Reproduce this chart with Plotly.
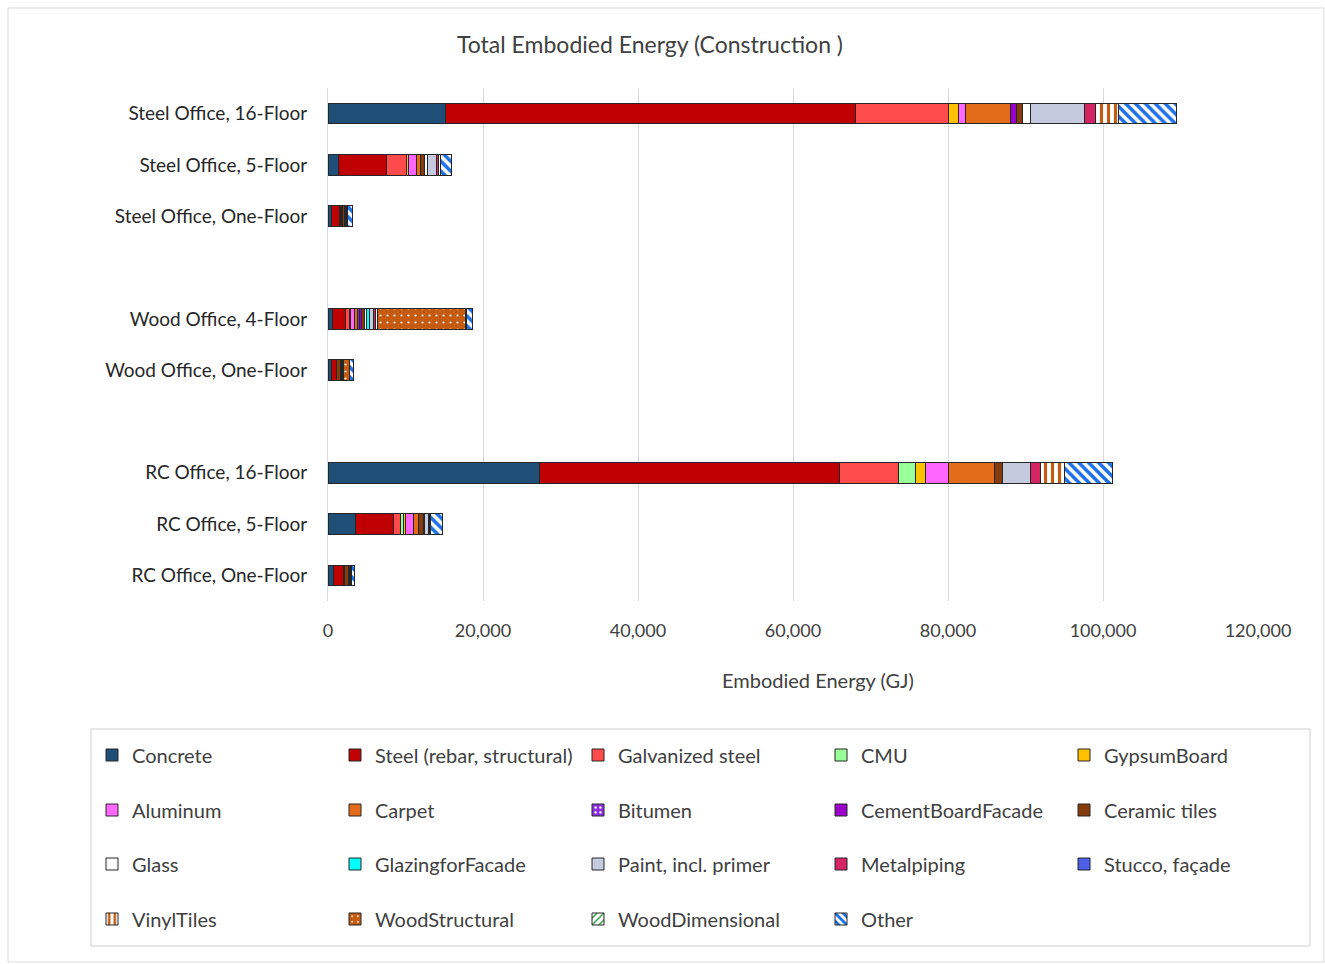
import plotly.graph_objects as go

# Buildings (top to bottom); blank entries separate the three building families
buildings = [
    "Steel Office, 16-Floor", "Steel Office, 5-Floor", "Steel Office, One-Floor",
    "Wood Office, 4-Floor", "Wood Office, One-Floor",
    "RC Office, 16-Floor", "RC Office, 5-Floor", "RC Office, One-Floor",
]
category_order = [
    "Steel Office, 16-Floor", "Steel Office, 5-Floor", "Steel Office, One-Floor", " ",
    "Wood Office, 4-Floor", "Wood Office, One-Floor", "  ",
    "RC Office, 16-Floor", "RC Office, 5-Floor", "RC Office, One-Floor",
]

# Embodied energy per material (GJ), same order as `buildings`
concrete = [15200, 1330, 390, 600, 390, 27350, 3570, 690]
steel = [52900, 6240, 1030, 1720, 740, 38700, 4860, 1290]
galvanized_steel = [11900, 2580, 100, 390, 0, 7530, 860, 0]
cmu = [0, 0, 0, 0, 0, 2240, 450, 0]
gypsum_board = [1300, 250, 80, 150, 0, 1290, 250, 0]
aluminum = [950, 1050, 80, 550, 0, 3010, 1080, 0]
carpet = [5800, 520, 150, 430, 0, 5940, 650, 100]
bitumen = [0, 0, 0, 250, 0, 0, 0, 0]
cement_board_facade = [780, 0, 0, 270, 0, 0, 0, 0]
ceramic_tiles = [730, 430, 300, 350, 500, 950, 550, 500]
glass = [1070, 430, 100, 200, 0, 0, 200, 100]
glazing_for_facade = [0, 0, 0, 470, 0, 0, 0, 0]
paint = [7000, 1120, 100, 540, 150, 3570, 450, 150]
metal_piping = [1380, 260, 80, 150, 80, 1380, 150, 80]
stucco_facade = [0, 0, 0, 0, 0, 0, 0, 0]
vinyl_tiles = [2930, 260, 80, 300, 80, 3050, 150, 80]
wood_structural = [0, 0, 0, 11350, 860, 0, 0, 0]
wood_dimensional = [0, 0, 0, 200, 0, 0, 0, 0]
other = [7520, 1510, 650, 770, 430, 6190, 1590, 430]

materials = [
    ("Concrete", concrete, "#1f4e79", None),
    ("Steel (rebar, structural)", steel, "#c00000", None),
    ("Galvanized steel", galvanized_steel, "#ff4b4b", None),
    ("CMU", cmu, "#99ff99", None),
    ("GypsumBoard", gypsum_board, "#ffc000", None),
    ("Aluminum", aluminum, "#ff66ff", None),
    ("Carpet", carpet, "#e36c1b", None),
    ("Bitumen", bitumen, "#8a2be2", dict(shape=".", fgcolor="#ffffff", size=6, solidity=0.2)),
    ("CementBoardFacade", cement_board_facade, "#9900cc", None),
    ("Ceramic tiles", ceramic_tiles, "#843c0c", None),
    ("Glass", glass, "#ffffff", None),
    ("GlazingforFacade", glazing_for_facade, "#00ffff", None),
    ("Paint, incl. primer", paint, "#c5cadf", None),
    ("Metalpiping", metal_piping, "#d42461", None),
    ("Stucco, façade", stucco_facade, "#4d5ee8", None),
    ("VinylTiles", vinyl_tiles, "#ffffff", dict(shape="|", fgcolor="#c55a11", size=7, solidity=0.45)),
    ("WoodStructural", wood_structural, "#c55a11", dict(shape=".", fgcolor="#ffffff", size=7, solidity=0.08)),
    ("WoodDimensional", wood_dimensional, "#ffffff", dict(shape="/", fgcolor="#2e9e3e", size=6, solidity=0.3)),
    ("Other", other, "#ffffff", dict(shape="\\", fgcolor="#1a6ee8", size=7, solidity=0.5)),
]

FONT = "Lato"
TEXT = "#404040"

# plot area in pixels
W, H = 1325, 964
L, R, T, B = 328, 1258, 88, 601
pw, ph = R - L, B - T


def px_x(px):
    return (px - L) / pw


def px_y(py):
    return (B - py) / ph


fig = go.Figure()
legend_names = ["legend", "legend2", "legend3", "legend4"]
for i, (name, vals, color, pattern) in enumerate(materials):
    marker = dict(color=color, line=dict(color="#262626", width=1))
    if pattern:
        marker["pattern"] = dict(fillmode="replace", bgcolor=color, **pattern)
    fig.add_trace(go.Bar(
        name=name,
        y=buildings,
        x=[v if v else None for v in vals],
        orientation="h",
        marker=marker,
        legend=legend_names[i // 5],
    ))

fig.update_layout(
    width=W, height=H,
    margin=dict(l=L, r=W - R, t=T, b=H - B),
    barmode="stack",
    bargap=0.6,
    paper_bgcolor="white",
    plot_bgcolor="white",
    font=dict(family=FONT, color=TEXT, size=19),
    title=dict(text="Total Embodied Energy (Construction )", x=650 / W,
               xanchor="center", xref="container", y=1 - 45 / H, yref="container",
               yanchor="middle", font=dict(size=23, color=TEXT, family=FONT)),
    xaxis=dict(range=[0, 120000], dtick=20000, tickformat=",", showgrid=True,
               gridcolor="#d9d9d9", gridwidth=1, zeroline=False, showline=False,
               ticks="", tickfont=dict(size=18, color=TEXT), ticklabelstandoff=17),
    yaxis=dict(type="category", categoryorder="array", categoryarray=category_order,
               autorange="reversed", showgrid=False, zeroline=False,
               showline=True, linecolor="#d9d9d9", linewidth=1, ticks="",
               tickfont=dict(size=19, color="#262626"), ticklabelstandoff=16),
    annotations=[dict(text="Embodied Energy (GJ)", xref="paper", yref="paper",
                      x=px_x(818), y=px_y(680), xanchor="center", yanchor="middle",
                      showarrow=False, font=dict(size=20, color=TEXT))],
    shapes=[
        dict(type="rect", xref="paper", yref="paper", x0=px_x(8), x1=px_x(1324),
             y0=px_y(962), y1=px_y(8), line=dict(color="#d9d9d9", width=1), layer="below"),
        dict(type="rect", xref="paper", yref="paper", x0=px_x(91), x1=px_x(1310),
             y0=px_y(946), y1=px_y(729), line=dict(color="#d0d0d0", width=1), layer="below"),
    ],
)

row_y = [755, 810, 864, 919]
for name, ry in zip(legend_names, row_y):
    fig.update_layout({name: dict(
        orientation="h", x=px_x(92), xanchor="left", y=px_y(ry), yanchor="middle",
        entrywidth=198, entrywidthmode="pixels", bgcolor="rgba(0,0,0,0)",
        font=dict(size=20, color=TEXT, family=FONT), traceorder="normal",
    )})

fig.write_html("out.html")
